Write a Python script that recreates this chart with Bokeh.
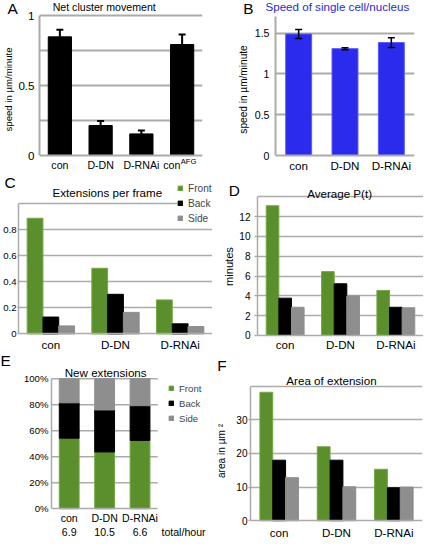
from bokeh.plotting import figure
from bokeh.models import (Range1d, FactorRange, FixedTicker, Legend, LegendItem, Title,
                          Label, Whisker, TeeHead, ColumnDataSource, LinearAxis)
from bokeh.layouts import column, row
from bokeh.transform import dodge
from bokeh.embed import file_html
from bokeh.resources import INLINE

FONT = "Liberation Sans"
S = 0.963
NB = "\u00a0"
HF = 1.15  # text box height / font size

# ---------------- data ----------------
cats_a = ["con", "D-DN", "D-RNAi", "con"]
sup_a = ["", "", "", "AFG"]
speed_a = [0.85, 0.215, 0.155, 0.795]
err_a = [0.05, 0.033, 0.025, 0.072]

cats = ["con", "D-DN", "D-RNAi"]
speed_b = [1.49, 1.31, 1.385]
err_b = [0.055, 0.012, 0.06]

series = ["Front", "Back", "Side"]
ext_front = [0.89, 0.505, 0.262]
ext_back = [0.13, 0.305, 0.078]
ext_side = [0.062, 0.166, 0.057]

pt_front = [13.1, 6.45, 4.55]
pt_back = [3.77, 5.22, 2.85]
pt_side = [2.85, 4.0, 2.8]

new_front = [54.3, 43.7, 52.6]
new_back = [27.2, 32.3, 26.7]
new_side = [18.5, 24.0, 20.7]
totals = ["6.9", "10.5", "6.6"]
totals_unit = "total/hour"

area_front = [38.2, 22.0, 15.3]
area_back = [18.0, 18.0, 9.8]
area_side = [12.8, 10.1, 10.0]

ticks_a = [0, 0.5, 1]
labels_a = ["0", "0.5", "1"]
grid_a = [0.25, 0.5, 0.75, 1]
ticks_b = [0, 0.5, 1, 1.5]
labels_b = ["0", "0.5", "1", "1.5"]
grid_b = [0.5, 1, 1.5]
ticks_c = [0, 0.2, 0.4, 0.6, 0.8]
labels_c = ["0", "0.2", "0.4", "0.6", "0.8"]
grid_c = [0.2, 0.4, 0.6, 0.8, 1.0]
ticks_d = [0, 2, 4, 6, 8, 10, 12]
labels_d = ["0", "2", "4", "6", "8", "10", "12"]
grid_d = [2, 4, 6, 8, 10, 12, 14]
ticks_e = [0, 20, 40, 60, 80, 100]
labels_e = ["0%", "20%", "40%", "60%", "80%", "100%"]
grid_e = [20, 40, 60, 80, 100]
ticks_f = [0, 10, 20, 30]
labels_f = ["0", "10", "20", "30"]
grid_f = [10, 20, 30, 40]

GREEN = "#5a8f2b"
GREEN_EDGE = "#74a844"
BLACK = "#000000"
GRAY = "#8e8e8e"
BLUE = "#2b2bee"
BLUE_EDGE = "#5a5af5"
TITLE_BLUE = "#2a2ad0"
GRID = "#ababab"


def px(v):
    return int(round(v * S))


def fs(v):
    return f"{v * S:.1f}px"


def letter_top(lbase):
    fsL = 16 * S
    syL = (lbase + 0.212 * 16) * S
    return int(round(syL - (2 + HF * fsL) / 2))


def make_fig(w, h, L, R, T, dt, db, yend, x_range):
    H = px(h)
    zero = db * S
    k = (db - dt) * S / yend
    p = figure(width=px(w), height=H, x_range=x_range,
               y_range=Range1d(-(H - zero) / k, (zero - T) / k),
               output_backend="svg", toolbar_location=None, title=None,
               min_border=0, min_border_left=px(L), min_border_right=px(R),
               min_border_top=T, min_border_bottom=0)
    p.outline_line_color = None
    p.xgrid.grid_line_color = None
    p.border_fill_color = "white"
    p.background_fill_color = "white"
    p.yaxis[0].bounds = (0, yend)
    p.xaxis[0].fixed_location = 0
    return p, zero, k


def add_letter(p, T, L, letter, lleft, lbase):
    fsL = 16 * S
    syL = (lbase + 0.212 * 16) * S
    s1 = int(round(2 * (T - syL)))
    p.add_layout(Title(text=letter, align="left", offset=lleft * S - px(L), standoff=s1,
                       vertical_align="bottom", text_font=FONT,
                       text_font_size=f"{fsL:.1f}px", text_font_style="normal",
                       text_color="black"), "above")
    return 2 + HF * fsL + s1


def add_title_above(p, T, H1, L, text, tleft, tbase, tsize, color="black"):
    syT = (tbase + 0.212 * tsize) * S
    sT = int(round(2 * (T - H1 - syT)))
    p.add_layout(Title(text=text, align="left", offset=tleft * S - px(L), standoff=sT,
                       vertical_align="bottom", text_font=FONT, text_font_size=fs(tsize),
                       text_font_style="normal", text_color=color), "above")


def add_title_label(p, L, zero, k, text, tleft, tbase, tsize):
    p.add_layout(Label(x=tleft * S - px(L), y=(zero - tbase * S) / k, x_units="screen",
                       y_units="data", text=text, text_font=FONT,
                       text_font_size=fs(tsize), text_align="left",
                       text_baseline="alphabetic", text_color="black"))


def plain_x(ax):
    ax.major_tick_line_color = None
    ax.minor_tick_line_color = None
    ax.major_tick_out = 0
    ax.major_tick_in = 0
    ax.minor_tick_out = 0
    ax.minor_tick_in = 0


def style(p, yticks, ylabels, ygrid, ytick_size, xtick_size, x_standoff, y_standoff,
          tick_out, grid_w, ylabel=None, ylabel_size=10, als=1):
    ya = p.yaxis[0]
    xa = p.xaxis[0]
    ya.ticker = FixedTicker(ticks=yticks)
    ya.major_label_overrides = dict(zip(yticks, ylabels))
    ya.minor_tick_line_color = None
    ya.minor_tick_out = 0
    ya.minor_tick_in = 0
    ya.major_tick_in = 0
    ya.major_tick_out = px(tick_out)
    ya.major_tick_line_color = GRID if tick_out > 0 else None
    ya.major_tick_line_width = grid_w
    ya.axis_line_color = GRID
    ya.axis_line_width = grid_w
    ya.major_label_text_font = FONT
    ya.major_label_text_font_size = fs(ytick_size)
    ya.major_label_text_color = "black"
    ya.major_label_standoff = px(y_standoff)
    if ylabel:
        ya.axis_label = ylabel
        ya.axis_label_text_font = FONT
        ya.axis_label_text_font_size = fs(ylabel_size)
        ya.axis_label_text_font_style = "normal"
        ya.axis_label_text_color = "black"
        ya.axis_label_standoff = px(als)
    plain_x(xa)
    xa.axis_line_color = GRID
    xa.axis_line_width = grid_w
    xa.major_label_text_font = FONT
    xa.major_label_text_font_size = fs(xtick_size)
    xa.major_label_text_color = "black"
    xa.major_label_standoff = x_standoff
    if ygrid is not None:
        p.ygrid.ticker = FixedTicker(ticks=ygrid)
        p.ygrid.grid_line_color = GRID
        p.ygrid.grid_line_width = grid_w
    else:
        p.ygrid.grid_line_color = None


def extra_x_axis(p, ticks, labels, size, standoff):
    ax = LinearAxis(ticker=FixedTicker(ticks=ticks),
                    major_label_overrides=dict(zip(ticks, labels)),
                    axis_line_color=None, major_label_standoff=standoff,
                    major_label_text_font=FONT, major_label_text_font_size=fs(size),
                    major_label_text_color="black", fixed_location=0)
    plain_x(ax)
    p.add_layout(ax, "below")


def make_legend(renderers, H, L, glyph_left, side_center, size, bg):
    # glyph_left / side_center in reference pixels of the panel
    pad = px(2)
    items = [LegendItem(label=s, renderers=[r]) for s, r in zip(series, renderers)]
    x = glyph_left * S - px(L) - pad
    y = H - (side_center * S + px(6) + pad)
    return Legend(items=items, location=(round(x), round(y)),
                  orientation="vertical", glyph_width=px(6), glyph_height=px(6),
                  label_height=px(12), label_width=10, spacing=px(3), padding=pad,
                  margin=0, border_line_color=None, background_fill_color="white",
                  background_fill_alpha=1.0 if bg else 0.0, label_text_font=FONT,
                  label_text_font_size=fs(size), label_standoff=px(5))


def grouped(p, src, f1, f2, f3, bw):
    rs = []
    for field, off, col, edge in [(f1, -bw, GREEN, GREEN_EDGE), (f2, 0, BLACK, BLACK),
                                  (f3, bw, GRAY, GRAY)]:
        rs.append(p.vbar(x=dodge("cat", off, range=p.x_range), top=field, width=bw,
                         source=src, fill_color=col, line_color=edge, line_width=1))
    return rs


# ---------------- row 1 ----------------
T1 = max(letter_top(14), letter_top(14))

# A
xs_a = [i + 0.5 for i in range(len(cats_a))]
pa, za, ka = make_fig(220, 178, 35, 10, T1, 16, 161, 1.0, Range1d(0, len(cats_a)))
style(pa, ticks_a, labels_a, grid_a, 12, 11, 3, 5, 0, 2,
      ylabel="speed in \u00b5m/minute", ylabel_size=10, als=1)
pa.xaxis[0].ticker = FixedTicker(ticks=xs_a)
pa.xaxis[0].major_label_overrides = {x: c + (NB * 7 if s else "")
                                     for x, c, s in zip(xs_a, cats_a, sup_a)}
sup_x = [x for x, s in zip(xs_a, sup_a) if s]
sup_t = [NB * 6 + s for s in sup_a if s]
extra_x_axis(pa, sup_x, sup_t, 8, 1)
h1 = add_letter(pa, T1, 35, "A", 2, 14)
add_title_above(pa, T1, h1, 35, "Net cluster movement", 49, 10, 11)
src_a = ColumnDataSource(dict(x=xs_a, lo=speed_a,
                              hi=[v + e for v, e in zip(speed_a, err_a)]))
pa.vbar(x="x", top="lo", width=0.57, source=src_a, color=BLACK)
pa.add_layout(Whisker(source=src_a, base="x", lower="lo", upper="hi", dimension="height",
                      line_color="black", line_width=2, level="overlay",
                      upper_head=TeeHead(size=px(7), line_color="black", line_width=2),
                      lower_head=None))

# B
pb, zb, kb = make_fig(219, 178, 65.7, 9, T1, 17, 161, 1.7, FactorRange(factors=cats))
style(pb, ticks_b, labels_b, grid_b, 11, 12, 3, 6, 0, 2,
      ylabel="speed in \u00b5m/minute", ylabel_size=10.5, als=3)
h1 = add_letter(pb, T1, 65.7, "B", 32, 14)
add_title_above(pb, T1, h1, 65.7, "Speed of single cell/nucleus", 55, 9.3, 12, TITLE_BLUE)
src_b = ColumnDataSource(dict(x=cats, top=speed_b,
                              lo=[v - e for v, e in zip(speed_b, err_b)],
                              hi=[v + e for v, e in zip(speed_b, err_b)]))
pb.vbar(x="x", top="top", width=0.56, source=src_b, fill_color=BLUE,
        line_color=BLUE_EDGE, line_width=1)
pb.add_layout(Whisker(source=src_b, base="x", lower="lo", upper="hi", dimension="height",
                      line_color="black", line_width=1.5, level="overlay",
                      upper_head=TeeHead(size=px(7), line_color="black", line_width=1.5),
                      lower_head=TeeHead(size=px(7), line_color="black", line_width=1.5)))

# ---------------- row 2 ----------------
T2 = 9

# C
pc, zc, kc = make_fig(220, 188, 17, 0, T2, 33.7, 168.7, 1.0, FactorRange(factors=cats))
style(pc, ticks_c, labels_c, grid_c, 10, 12, 4, 1, 1, 1.5)
add_letter(pc, T2, 17, "C", 2, 17)
add_title_label(pc, 17, zc, kc, "Extensions per frame", 52, 22, 12)
src_c = ColumnDataSource(dict(cat=cats, front=ext_front, back=ext_back, side=ext_side))
rc = grouped(pc, src_c, "front", "back", "side", 0.244)
pc.add_layout(make_legend(rc, px(188), 17, 184, 47, 10.5, True))

# D
pd_, zd, kd = make_fig(219, 188, 46.7, 0, T2, 26.3, 170.3, 14, FactorRange(factors=cats))
style(pd_, ticks_d, labels_d, grid_d, 10.5, 12, 3, 4, 3, 1.5,
      ylabel="minutes", ylabel_size=11.5, als=1)
add_letter(pd_, T2, 46.7, "D", 17, 25)
add_title_label(pd_, 46.7, zd, kd, "Average P(t)", 98.3, 22.7, 12)
src_d = ColumnDataSource(dict(cat=cats, front=pt_front, back=pt_back, side=pt_side))
grouped(pd_, src_d, "front", "back", "side", 0.228)

# ---------------- row 3 ----------------
T3 = 10

# E
xs_e = [i + 0.5 for i in range(len(cats))]
cat_w_e = 110 / len(cats)                 # reference pixels per category
e_x_end = (220 - 53.3) / cat_w_e          # frame reaches the panel's right edge
unit_x = (190 - 53.3) / cat_w_e           # centre of the "total/hour" text
pe, ze, ke = make_fig(220, 194, 53.3, 0, T3, 27.3, 162.3, 100, Range1d(0, e_x_end))
style(pe, ticks_e, labels_e, None, 10, 11, 3, 3, 0, 1.5)
pe.xaxis[0].ticker = FixedTicker(ticks=xs_e)
pe.xaxis[0].major_label_overrides = dict(zip(xs_e, cats))
pe.xaxis[0].bounds = (0, len(cats))
extra_x_axis(pe, xs_e + [unit_x], totals + [totals_unit], 11, 17)
add_letter(pe, T3, 53.3, "E", 0, 14)
add_title_label(pe, 53.3, ze, ke, "New extensions", 66.7, 20.7, 12)
pe.segment(x0=[0] * len(grid_e), y0=grid_e, x1=[len(cats)] * len(grid_e), y1=grid_e,
           line_color=GRID, line_width=1.5)
src_e = ColumnDataSource(dict(x=xs_e, Front=new_front, Back=new_back, Side=new_side))
re_ = pe.vbar_stack(series, x="x", width=0.56, source=src_e,
                    fill_color=[GREEN, BLACK, GRAY], line_color=[GREEN_EDGE, BLACK, GRAY],
                    line_width=1)
pe.add_layout(make_legend(re_, px(194), 53.3, 177, 66.3, 10, False))

# F
pf, zf, kf = make_fig(219, 194, 39.3, 1.5, T3, 35, 174.7, 40, FactorRange(factors=cats))
style(pf, ticks_f, labels_f, grid_f, 10.5, 12, 5, 1, 2, 1.5,
      ylabel="area in \u00b5m \u00b2", ylabel_size=10.5, als=6)
add_letter(pf, T3, 39.3, "F", 5, 19)
add_title_label(pf, 39.3, zf, kf, "Area of extension", 76.7, 29, 12)
src_f = ColumnDataSource(dict(cat=cats, front=area_front, back=area_back, side=area_side))
grouped(pf, src_f, "front", "back", "side", 0.224)

layout = column(row(pa, pb), row(pc, pd_), row(pe, pf))
open("out.html", "w").write(file_html(layout, INLINE, title="panels"))
